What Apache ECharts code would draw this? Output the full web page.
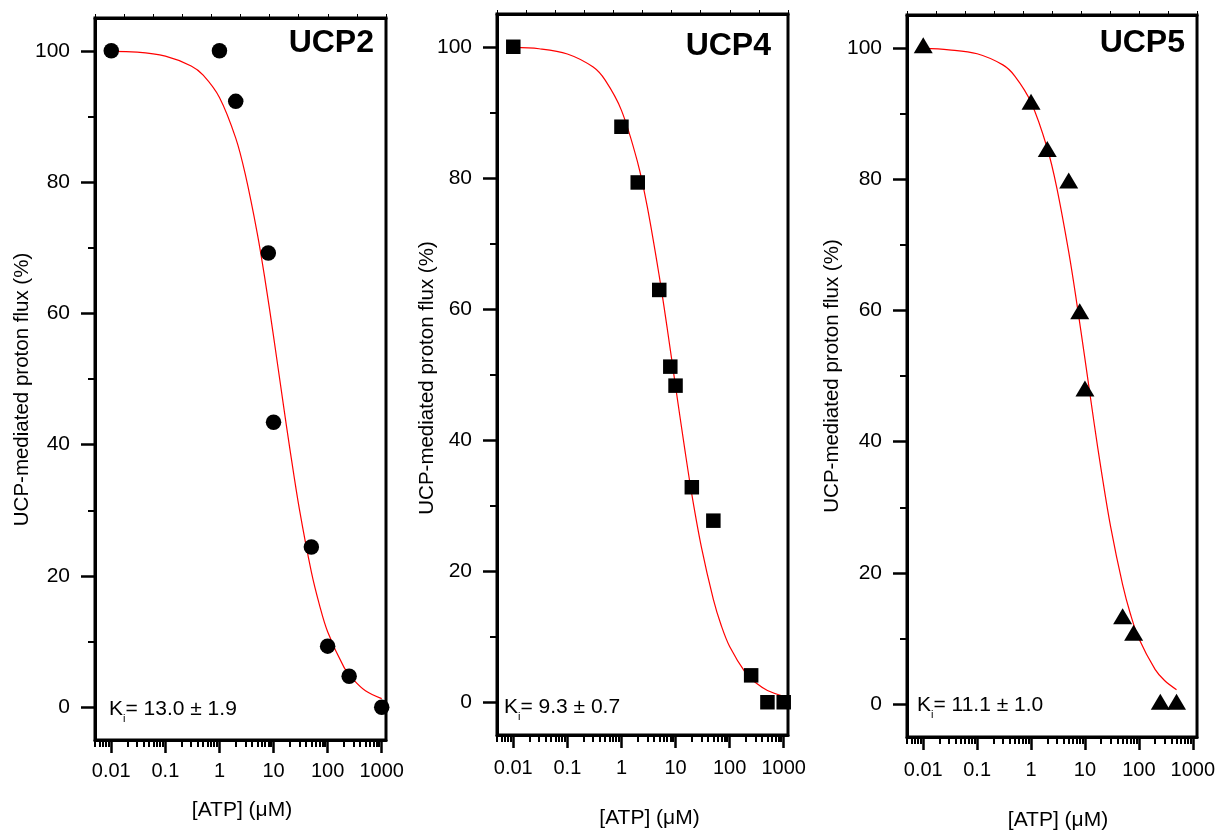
<!DOCTYPE html>
<html>
<head>
<meta charset="utf-8">
<script src="https://cdn.jsdelivr.net/npm/echarts@6/dist/echarts.min.js"></script>
<style>
html, body { margin: 0; padding: 0; background: #ffffff; }
#chart { width: 1218px; height: 831px; }
</style>
</head>
<body>
<div id="chart"></div>
<script>
// ---------- data ----------
const xTickValues = [0.01, 0.1, 1, 10, 100, 1000];
const yTickValues = [0, 20, 40, 60, 80, 100];
const yMinorTickValues = [10, 30, 50, 70, 90];

const panelTitles = ['UCP2', 'UCP4', 'UCP5'];
const kiTexts = ['= 13.0 ± 1.9', '= 9.3 ± 0.7', '= 11.1 ± 1.0'];
const xAxisName = '[ATP] (\u03bcM)';
const yAxisName = 'UCP-mediated proton flux (%)';

// measured points
const ucp2Atp  = [0.01, 1, 2, 8, 10, 50, 100, 250, 1000];
const ucp2Flux = [100, 100, 92.3, 69.2, 43.4, 24.4, 9.3, 4.7, 0];

const ucp4Atp  = [0.01, 1, 2, 5, 8, 10, 20, 50, 250, 500, 1000];
const ucp4Flux = [100, 87.8, 79.3, 62.9, 51.2, 48.3, 32.8, 27.7, 4.1, 0, 0];

const ucp5Atp  = [0.01, 1, 2, 5, 8, 10, 50, 80, 250, 500];
const ucp5Flux = [100, 91.4, 84.2, 79.4, 59.5, 47.7, 13.0, 10.5, 0, 0];

// fitted curves (red lines)
const ucp2FitAtp  = [0.01, 0.03, 0.1, 0.3, 0.5, 1, 2, 3, 5, 7, 10, 15, 20, 30, 50, 70, 100, 200, 300, 500, 1000];
const ucp2FitFlux = [99.9, 99.8, 99.2, 97.7, 96.3, 92.9, 86.7, 81.2, 72.2, 65.0, 56.5, 46.4, 39.4, 30.2, 20.6, 15.7, 11.5, 6.1, 4.2, 2.5, 1.3];

const ucp4FitAtp  = [0.01, 0.03, 0.1, 0.3, 0.5, 1, 2, 3, 5, 7, 10, 15, 20, 30, 50, 70, 100, 200, 300, 500, 1000];
const ucp4FitFlux = [99.9, 99.7, 98.9, 96.9, 94.9, 90.3, 82.3, 75.6, 65.0, 57.1, 48.2, 38.3, 31.7, 23.7, 15.7, 11.7, 8.5, 4.4, 3.0, 1.8, 0.9];

const ucp5FitAtp  = [0.01, 0.03, 0.1, 0.3, 0.5, 1, 2, 3, 5, 7, 10, 15, 20, 30, 50, 70, 100, 200, 300, 500];
const ucp5FitFlux = [99.9, 99.7, 99.1, 97.4, 95.7, 91.7, 84.7, 78.7, 68.9, 61.3, 52.6, 42.5, 35.7, 27.0, 18.2, 13.7, 10.0, 5.3, 3.6, 2.2];

// ---------- layout / style ----------
const FONT = '"Liberation Sans", Arial, Helvetica, sans-serif';
const X_MIN = 0.005, X_MAX = 1200, Y_MIN = -5, Y_MAX = 105;

// minor log ticks (2..9 x 10^k) inside the axis range
const xMinorTickValues = [];
for (let k = -3; k <= 3; k++) {
  for (let m = 2; m <= 9; m++) {
    const v = Number((m * Math.pow(10, k)).toPrecision(3));
    if (v >= X_MIN && v <= X_MAX) xMinorTickValues.push(v);
  }
}

const panels = [
  { left: 95,  top: 18, height: 722, atp: ucp2Atp, flux: ucp2Flux, fitAtp: ucp2FitAtp, fitFlux: ucp2FitFlux,
    symbol: 'circle', symbolSize: 15.5, symbolOffset: [0, 0], xLabelMargin: 21,
    titleX: 374, titleY: 43.5, kiX: 109, kiY: 694.4, xNameX: 242, xNameY: 810, yNameX: 22.5, yNameY: 389.5 },
  { left: 497, top: 14, height: 721, atp: ucp4Atp, flux: ucp4Flux, fitAtp: ucp4FitAtp, fitFlux: ucp4FitFlux,
    symbol: 'rect', symbolSize: 14.5, symbolOffset: [0, 0], xLabelMargin: 23,
    titleX: 771, titleY: 46.2, kiX: 504, kiY: 692.7, xNameX: 649.5, xNameY: 818, yNameX: 427.5, yNameY: 378 },
  { left: 907, top: 15, height: 722, atp: ucp5Atp, flux: ucp5Flux, fitAtp: ucp5FitAtp, fitFlux: ucp5FitFlux,
    symbol: 'triangle', symbolSize: [19, 16], symbolOffset: [0, -2.5], xLabelMargin: 23,
    titleX: 1185, titleY: 42.9, kiX: 917, kiY: 690.7, xNameX: 1058, xNameY: 820, yNameX: 832, yNameY: 376 }
];

const grid = [], xAxis = [], yAxis = [], series = [], graphic = [];

panels.forEach((p, i) => {
  grid.push({ left: p.left, top: p.top, width: 291, height: p.height, show: true,
              borderColor: '#000', borderWidth: 3, backgroundColor: 'transparent' });

  // main bottom log axis
  xAxis.push({
    type: 'log', logBase: 10, gridIndex: i, position: 'bottom', min: X_MIN, max: X_MAX,
    axisLine: { show: true, onZero: false, lineStyle: { color: '#000', width: 3 } },
    axisTick: { show: true, inside: false, length: 13, customValues: xTickValues, lineStyle: { color: '#000', width: 2.5 } },
    axisLabel: { show: true, customValues: xTickValues, margin: p.xLabelMargin, color: '#000', fontSize: 20, fontFamily: FONT,
                 formatter: v => String(v) },
    splitLine: { show: false }, minorTick: { show: false }
  });
  // minor ticks on the bottom
  xAxis.push({
    type: 'log', logBase: 10, gridIndex: i, position: 'bottom', min: X_MIN, max: X_MAX,
    axisLine: { show: false, onZero: false },
    axisTick: { show: true, inside: false, length: 7, customValues: xMinorTickValues, lineStyle: { color: '#000', width: 2 } },
    axisLabel: { show: false }, splitLine: { show: false }
  });
  // top frame axis with small ticks
  xAxis.push({
    type: 'value', gridIndex: i, position: 'top', min: 0, max: 10, interval: 1,
    axisLine: { show: true, onZero: false, lineStyle: { color: '#000', width: 3 } },
    axisTick: { show: true, inside: false, length: 4, lineStyle: { color: '#000', width: 1 } },
    axisLabel: { show: false }, splitLine: { show: false }
  });

  // main left axis
  yAxis.push({
    type: 'value', gridIndex: i, position: 'left', min: Y_MIN, max: Y_MAX,
    axisLine: { show: true, onZero: false, lineStyle: { color: '#000', width: 3 } },
    axisTick: { show: true, inside: false, length: 14, customValues: yTickValues, lineStyle: { color: '#000', width: 2.5 } },
    axisLabel: { show: true, customValues: yTickValues, margin: 25, color: '#000', fontSize: 21, fontFamily: FONT },
    splitLine: { show: false }
  });
  // minor left ticks
  yAxis.push({
    type: 'value', gridIndex: i, position: 'left', min: Y_MIN, max: Y_MAX,
    axisLine: { show: false, onZero: false },
    axisTick: { show: true, inside: false, length: 7, customValues: yMinorTickValues, lineStyle: { color: '#000', width: 2 } },
    axisLabel: { show: false }, splitLine: { show: false }
  });

  series.push({
    type: 'line', xAxisIndex: 3 * i, yAxisIndex: 2 * i, z: 2,
    data: p.fitAtp.map((x, j) => [x, p.fitFlux[j]]),
    showSymbol: false, smooth: 0.35, lineStyle: { color: '#ff0000', width: 1.2 }
  });
  series.push({
    type: 'scatter', xAxisIndex: 3 * i, yAxisIndex: 2 * i, z: 3,
    data: p.atp.map((x, j) => [x, p.flux[j]]),
    symbol: p.symbol, symbolSize: p.symbolSize, symbolOffset: p.symbolOffset,
    itemStyle: { color: '#000', opacity: 1 }
  });

  // panel title
  graphic.push({ type: 'text', x: p.titleX, y: p.titleY, z: 10,
    style: { text: panelTitles[i], fill: '#000', font: 'bold 32px ' + FONT,
             align: 'right', verticalAlign: 'middle', textAlign: 'right', textVerticalAlign: 'middle' } });
  // Ki annotation
  graphic.push({ type: 'text', x: p.kiX, y: p.kiY, z: 10,
    style: { text: '{k|K}{s|i}{v|' + kiTexts[i] + '}', align: 'left', verticalAlign: 'top',
             textAlign: 'left', textVerticalAlign: 'top',
             rich: {
               k: { fontSize: 21, fontFamily: FONT, fill: '#000', color: '#000', lineHeight: 30 },
               s: { fontSize: 11, fontFamily: FONT, fill: '#000', color: '#000', lineHeight: 8, verticalAlign: 'bottom' },
               v: { fontSize: 21, fontFamily: FONT, fill: '#000', color: '#000', lineHeight: 30 }
             } } });
  // axis names
  graphic.push({ type: 'text', x: p.xNameX, y: p.xNameY, z: 10,
    style: { text: xAxisName, fill: '#000', font: '21px ' + FONT,
             align: 'center', verticalAlign: 'middle', textAlign: 'center', textVerticalAlign: 'middle' } });
  graphic.push({ type: 'text', x: p.yNameX, y: p.yNameY, rotation: Math.PI / 2, z: 10,
    style: { text: yAxisName, fill: '#000', font: '20.5px ' + FONT,
             align: 'center', verticalAlign: 'middle', textAlign: 'center', textVerticalAlign: 'middle' } });
});

const chart = echarts.init(document.getElementById('chart'), null, { renderer: 'canvas' });
chart.setOption({
  animation: false,
  backgroundColor: '#ffffff',
  grid, xAxis, yAxis, series, graphic
});
</script>
</body>
</html>
